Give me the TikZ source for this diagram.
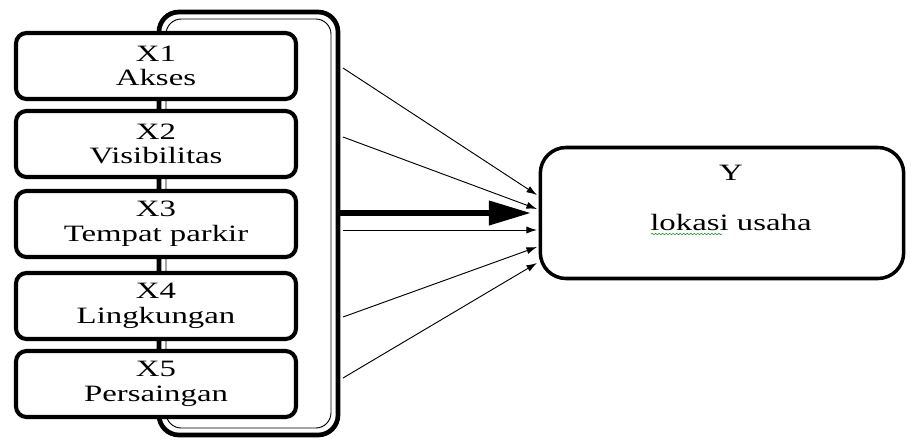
\documentclass[tikz,border=0pt]{standalone}
\usepackage{fontspec}
\setmainfont{Liberation Serif}[FakeStretch=1.4]
\usetikzlibrary{arrows.meta,decorations.pathmorphing}

\tikzset{
  xbox/.style={draw, line width=3.5pt, rounded corners=9pt, fill=white,
    minimum width=8.4cm, minimum height=1.98cm, align=center,
    font=\fontsize{20}{21}\selectfont},
  ybox/.style={draw, line width=3pt, rounded corners=22pt, fill=white,
    minimum width=10.9cm, minimum height=3.93cm},
  ytext/.style={font=\fontsize{20}{21}\selectfont},
  thin arrow/.style={-{Latex[length=9pt,width=6pt]}, line width=0.8pt},
  thick arrow/.style={-{Triangle[length=36pt,width=20pt]}, line width=5pt}
}

\begin{document}
\begin{tikzpicture}[x=0.03cm, y=-0.03cm]
  \useasboundingbox (0,0) rectangle (912,441);
  % frame behind the X boxes
  \draw[line width=4pt, rounded corners=17pt] (159,12) rectangle (338,435);
  \draw[line width=0.8pt, rounded corners=13pt] (166,19) rectangle (331,428);
  % variables
  \node[xbox] (x1) at (156,66) {X1\\Akses};
  \node[xbox] (x2) at (156,144) {X2\\Visibilitas};
  \node[xbox] (x3) at (156,224) {X3\\Tempat parkir};
  \node[xbox] (x4) at (156,306) {X4\\Lingkungan};
  \node[xbox] (x5) at (156,384) {X5\\Persaingan};
  % dependent
  \node[ybox] (y) at (722,213) {};
  \node[ytext] (ylabel) at (731,173) {Y};
  \node[ytext] (ydesc) at (731,222) {lokasi usaha};
  \draw[green!60!black, line width=0.5pt, decorate,
    decoration={snake, amplitude=0.5pt, segment length=3pt}] (651,234) -- (722,234);
  % arrow ends
  \coordinate (s1) at (343,68);
  \coordinate (s2) at (343,137);
  \coordinate (st) at (340,213);
  \coordinate (s3) at (343,230);
  \coordinate (s4) at (343,317);
  \coordinate (s5) at (343,378);
  \coordinate (e1) at (537,195);
  \coordinate (e2) at (537,209);
  \coordinate (et) at (531,213);
  \coordinate (e3) at (537,230);
  \coordinate (e4) at (537,247);
  \coordinate (e5) at (537,263);
  \draw[thin arrow] (s1) -- (e1);
  \draw[thin arrow] (s2) -- (e2);
  \draw[thick arrow] (st) -- (et);
  \draw[thin arrow] (s3) -- (e3);
  \draw[thin arrow] (s4) -- (e4);
  \draw[thin arrow] (s5) -- (e5);
\end{tikzpicture}
\end{document}
